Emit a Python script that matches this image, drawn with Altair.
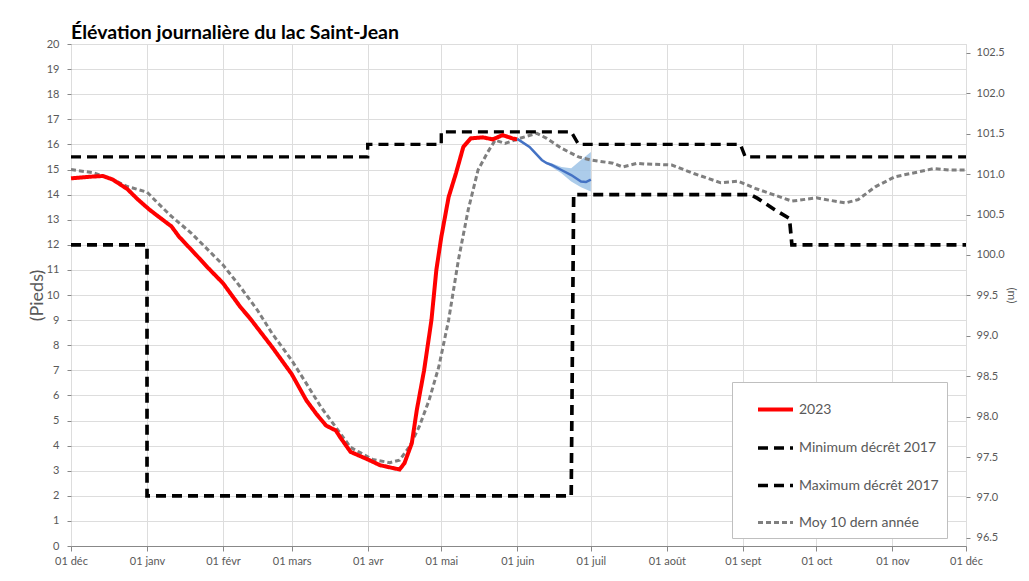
import altair as alt
import pandas as pd

START = pd.Timestamp("2022-12-01")

# ---- tick labels ----
month_starts = ["2022-12-01", "2023-01-01", "2023-02-01", "2023-03-01", "2023-04-01",
                "2023-05-01", "2023-06-01", "2023-07-01", "2023-08-01", "2023-09-01",
                "2023-10-01", "2023-11-01", "2023-12-01"]
month_labels = ["01 déc", "01 janv", "01 févr", "01 mars", "01 avr", "01 mai", "01 juin",
                "01 juil", "01 août", "01 sept", "01 oct", "01 nov", "01 déc"]
feet_ticks = list(range(0, 21))
metre_ticks = [96.5, 97.0, 97.5, 98.0, 98.5, 99.0, 99.5, 100.0, 100.5, 101.0, 101.5, 102.0, 102.5]

# ---- series: 2023 observed (ft) ----
obs_dates = ["2022-12-01", "2022-12-05", "2022-12-10", "2022-12-14", "2022-12-18", "2022-12-24",
             "2022-12-28", "2023-01-02", "2023-01-06", "2023-01-11", "2023-01-14", "2023-01-21",
             "2023-01-26", "2023-02-01", "2023-02-08", "2023-02-12", "2023-02-21", "2023-03-01",
             "2023-03-07", "2023-03-11", "2023-03-15", "2023-03-19", "2023-03-21", "2023-03-25",
             "2023-04-01", "2023-04-06", "2023-04-12", "2023-04-14", "2023-04-16", "2023-04-19",
             "2023-04-21", "2023-04-24", "2023-04-27", "2023-04-29", "2023-05-01", "2023-05-04",
             "2023-05-07", "2023-05-10", "2023-05-13", "2023-05-18", "2023-05-22", "2023-05-26",
             "2023-05-30", "2023-06-01"]
obs_vals = [14.65, 14.68, 14.72, 14.74, 14.6, 14.22,
            13.83, 13.4, 13.1, 12.73, 12.33, 11.6,
            11.07, 10.47, 9.53, 9.07, 7.93, 6.85,
            5.8, 5.27, 4.8, 4.6, 4.3, 3.75,
            3.45, 3.22, 3.09, 3.05, 3.3, 4.1,
            5.4, 7.0, 9.0, 11.0, 12.3, 13.9,
            14.85, 15.9, 16.24, 16.28, 16.2, 16.37,
            16.24, 16.2]

# ---- forecast (blue) ----
fc_dates = ["2023-06-01", "2023-06-06", "2023-06-11", "2023-06-13", "2023-06-15", "2023-06-19",
            "2023-06-23", "2023-06-27", "2023-06-29", "2023-07-01"]
fc_vals = [16.22, 15.9, 15.38, 15.25, 15.18, 14.98, 14.78, 14.52, 14.5, 14.6]

band_dates = ["2023-06-11", "2023-06-15", "2023-06-19", "2023-06-23", "2023-06-27", "2023-07-01"]
band_low = [15.38, 15.1, 14.85, 14.52, 14.29, 14.12]
band_high = [15.38, 15.25, 15.1, 15.05, 15.38, 15.7]

# ---- 10-year average ----
avg_dates = ["2022-12-01", "2022-12-10", "2022-12-17", "2022-12-24", "2023-01-01", "2023-01-05",
             "2023-01-11", "2023-01-19", "2023-02-01", "2023-02-08", "2023-02-15", "2023-02-21",
             "2023-03-01", "2023-03-07", "2023-03-13", "2023-03-20", "2023-03-25", "2023-04-03",
             "2023-04-10", "2023-04-14", "2023-04-18", "2023-04-22", "2023-04-26", "2023-04-30",
             "2023-05-04", "2023-05-08", "2023-05-12", "2023-05-16", "2023-05-20", "2023-05-23",
             "2023-05-27", "2023-06-02", "2023-06-09", "2023-06-13", "2023-06-19", "2023-06-26",
             "2023-07-01", "2023-07-10", "2023-07-14", "2023-07-20", "2023-07-23", "2023-08-03",
             "2023-08-12", "2023-08-23", "2023-08-30", "2023-09-06", "2023-09-14", "2023-09-21",
             "2023-10-01", "2023-10-06", "2023-10-13", "2023-10-18", "2023-10-25", "2023-11-02",
             "2023-11-10", "2023-11-18", "2023-11-24", "2023-12-01"]
avg_vals = [15.0, 14.87, 14.65, 14.32, 14.1, 13.7,
            13.13, 12.47, 11.2, 10.33, 9.4, 8.47,
            7.4, 6.47, 5.53, 4.6, 3.93, 3.45,
            3.32, 3.42, 3.95, 4.75, 5.8, 7.14,
            9.0, 11.4, 13.4, 14.98, 15.7, 16.17,
            16.04, 16.24, 16.44, 16.24, 15.85, 15.5,
            15.38, 15.25, 15.1, 15.25, 15.22, 15.18,
            14.84, 14.47, 14.54, 14.25, 13.98, 13.74,
            13.87, 13.78, 13.67, 13.8, 14.31, 14.71,
            14.87, 15.04, 14.98, 14.98]

# ---- decree limits ----
min_dates = ["2022-12-01", "2023-01-01", "2023-01-01", "2023-06-23", "2023-06-24", "2023-09-04",
             "2023-09-07", "2023-09-14", "2023-09-20", "2023-09-21", "2023-12-01"]
min_vals = [12, 12, 2, 2, 14, 14, 13.85, 13.4, 13.05, 12, 12]

max_dates = ["2022-12-01", "2023-04-01", "2023-04-01", "2023-05-01", "2023-05-01", "2023-06-23",
             "2023-06-26", "2023-08-31", "2023-09-02", "2023-12-01"]
max_vals = [15.5, 15.5, 16, 16, 16.5, 16.5, 16, 16, 15.5, 15.5]

SERIES = ["2023", "Minimum décrêt 2017", "Maximum décrêt 2017", "Moy 10 dern année"]
COLORS = ["#ff0000", "#000000", "#000000", "#7f7f7f"]
DASHES = [[1, 0], [10, 6], [10, 6], [5, 3]]
WIDTHS = [4, 3, 3, 3]


def days(dates):
    return [(pd.Timestamp(d) - START).days for d in dates]


def frame(name, dates, vals):
    return pd.DataFrame({"series": name, "day": days(dates), "value": vals,
                         "idx": range(len(vals))})


lines_df = pd.concat([
    frame(SERIES[3], avg_dates, avg_vals),
    frame(SERIES[1], min_dates, min_vals),
    frame(SERIES[2], max_dates, max_vals),
    frame(SERIES[0], obs_dates, obs_vals),
], ignore_index=True)

fc_df = pd.DataFrame({"day": days(fc_dates), "value": fc_vals})
band_df = pd.DataFrame({"day": days(band_dates), "value": band_low, "hi": band_high})
metre_df = pd.DataFrame({"m": [metre_ticks[0], metre_ticks[-1]]})

month_days = days(month_starts)
label_expr = "[" + ",".join("'%s'" % l for l in month_labels) + "][indexof([" + \
    ",".join(str(d) for d in month_days) + "], datum.value)]"

FONT = "Lato"
GREY = "#595959"

x_enc = alt.X("day:Q", scale=alt.Scale(domain=[0, 365], nice=False, zero=False),
              axis=alt.Axis(values=month_days, labelExpr=label_expr, title=None, grid=True,
                            tickSize=5, labelPadding=4, labelFontSize=11, labelColor=GREY,
                            labelFont=FONT, labelFlush=False, labelOverlap=False))
y_axis = alt.Axis(values=feet_ticks, title="(Pieds)", grid=True, tickSize=4, labelPadding=8,
                  labelFontSize=11, labelColor=GREY, labelFont=FONT, titleFont=FONT,
                  titleFontSize=18, titleColor=GREY, titleFontWeight="normal", titlePadding=0,
                  domain=False)
y_scale = alt.Scale(domain=[0, 20], nice=False, zero=True)

legend = alt.Legend(title=None, orient="none", legendX=661, legendY=338, padding=8,
                    symbolSize=1225, symbolOffset=16, rowPadding=10.5, labelOffset=4,
                    labelFontSize=14, labelColor=GREY, labelFont=FONT,
                    strokeColor="#bfbfbf", fillColor="white", symbolType="stroke")

band = alt.Chart(band_df).mark_area(color="#9dc3e6", opacity=0.85).encode(
    x=x_enc, y=alt.Y("value:Q", scale=y_scale, axis=y_axis), y2="hi:Q")

lines = alt.Chart(lines_df).mark_line(strokeCap="butt").encode(
    x=x_enc,
    y=alt.Y("value:Q", scale=y_scale, axis=y_axis),
    color=alt.Color("series:N", scale=alt.Scale(domain=SERIES, range=COLORS), legend=legend),
    strokeDash=alt.StrokeDash("series:N", scale=alt.Scale(domain=SERIES, range=DASHES),
                              legend=legend),
    strokeWidth=alt.StrokeWidth("series:N", scale=alt.Scale(domain=SERIES, range=WIDTHS),
                                legend=legend),
    order="idx:Q",
)

forecast = alt.Chart(fc_df).mark_line(color="#4472c4", strokeWidth=2.5).encode(
    x=x_enc, y=alt.Y("value:Q", scale=y_scale, axis=y_axis))

left = alt.layer(band, lines, forecast)

right = alt.Chart(metre_df).mark_point(opacity=0).encode(
    y=alt.Y("m:Q", scale=alt.Scale(domain=[96.40, 102.61], nice=False, zero=False),
            axis=alt.Axis(orient="right", values=metre_ticks, format=".1f", title="(m)",
                          grid=False, domain=False, tickSize=4, labelPadding=6,
                          labelFontSize=11, labelColor=GREY, labelFont=FONT, titleFont=FONT,
                          titleFontSize=12, titleColor=GREY, titleFontWeight="normal",
                          titlePadding=0)))

chart = alt.layer(left, right).resolve_scale(y="independent").properties(
    width=895, height=502,
    autosize=alt.AutoSizeParams(type="none"),
    padding={"left": 63, "top": 36, "right": 55, "bottom": 22},
    title=alt.TitleParams("Élévation journalière du lac Saint-Jean", anchor="start",
                          frame="group", fontSize=19.5, fontWeight="bold", font=FONT,
                          color="#000000", baseline="alphabetic", offset=-2, dy=18),
).configure_axis(
    gridColor="#d9d9d9", domainColor="#d9d9d9", tickColor="#d9d9d9", gridWidth=1
).configure_view(stroke=None).configure(background="white")

chart.save("out.html", embed_options={"renderer": "svg", "actions": False})
